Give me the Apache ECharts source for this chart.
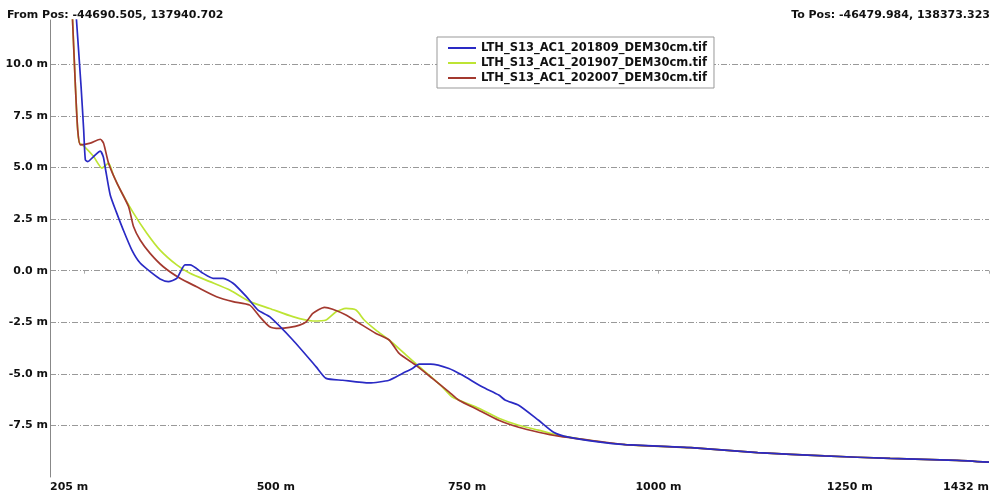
<!DOCTYPE html>
<html>
<head>
<meta charset="utf-8">
<script src="https://cdn.jsdelivr.net/npm/echarts@6/dist/echarts.min.js"></script>
<style>
  html, body { margin: 0; padding: 0; background: #fff; }
  #profile { width: 992px; height: 495px; }
</style>
</head>
<body>
<div id="profile"></div>
<script>
// 剖面名称
var seriesNames = [
  'LTH_S13_AC1_201809_DEM30cm.tif',
  'LTH_S13_AC1_201907_DEM30cm.tif',
  'LTH_S13_AC1_202007_DEM30cm.tif'
];

// 201809 距离 (m) / 高程 (m)
var dist2018 = [238, 245.6, 249, 251.2, 254.5, 261.6, 270.7, 274.6, 277.2, 283.7, 291.6, 300.7, 312, 322.8, 338, 348.8, 359.6, 370.6, 381.4, 387.9, 405.2, 418.2, 431.2, 444.2, 461.7, 476.8, 492, 522.3, 552.8, 565.8, 587.4, 622.2, 648.2, 665.5, 678.5, 687.2, 702.5, 726.3, 743.6, 769.6, 791.4, 800.1, 817.4, 843.4, 863, 882.5, 921.5];
var elev2018 = [13, 8.93, 6.83, 5.37, 5.29, 5.52, 5.79, 5.52, 4.99, 3.67, 2.85, 1.98, 1.0, 0.37, -0.11, -0.40, -0.53, -0.37, 0.28, 0.28, -0.13, -0.37, -0.37, -0.61, -1.26, -1.91, -2.23, -3.36, -4.66, -5.22, -5.31, -5.44, -5.31, -4.98, -4.74, -4.53, -4.53, -4.74, -5.06, -5.63, -6.03, -6.28, -6.52, -7.25, -7.83, -8.07, -8.30];

// 201907
var dist2019 = [233.5, 238.2, 241.2, 243.4, 249, 262, 272.9, 281.5, 287.6, 296.8, 314.1, 331.5, 348.8, 370.6, 387.9, 413.9, 439.9, 466, 492, 522.3, 548.4, 565.8, 578.8, 591.8, 604.9, 615.6, 630.9, 648.2, 670.4, 683, 700.3, 717.6, 730.6, 765.3, 791.4, 817.4, 843.4, 869.5, 921.5];
var elev2019 = [13, 8.93, 6.83, 6.2, 6.05, 5.53, 4.97, 5.21, 4.65, 3.92, 2.79, 1.82, 1.0, 0.28, -0.13, -0.53, -0.94, -1.50, -1.83, -2.23, -2.44, -2.39, -1.99, -1.83, -1.91, -2.39, -2.88, -3.36, -4.09, -4.50, -5.06, -5.63, -6.12, -6.67, -7.15, -7.49, -7.73, -7.98, -8.28];

// 202007
var dist2020 = [233.5, 238.2, 241.2, 244.7, 257.7, 270.7, 275, 281.5, 292.5, 307.6, 314.1, 322.8, 335.8, 353.1, 374.9, 396.6, 422.6, 444.2, 466, 479, 492, 505, 518, 531.1, 539.8, 548.4, 563.6, 574.4, 591.8, 609.2, 630.9, 648.2, 661.2, 682.9, 704.6, 726.3, 739.3, 765.3, 791.4, 817.4, 843.4, 869.5, 921.5];
var elev2020 = [13, 8.93, 6.83, 6.10, 6.18, 6.37, 6.18, 5.21, 4.24, 3.11, 2.14, 1.49, 0.84, 0.19, -0.37, -0.78, -1.26, -1.50, -1.67, -2.23, -2.72, -2.80, -2.75, -2.64, -2.48, -2.07, -1.78, -1.87, -2.15, -2.55, -3.04, -3.36, -4.01, -4.58, -5.22, -5.87, -6.28, -6.76, -7.25, -7.59, -7.83, -8.02, -8.27];

// 三条线尾部基本重合
var tailDist = [956.6, 1042.5, 1129.7, 1216.9, 1302.8, 1390, 1432];
var tailElev = [-8.43, -8.58, -8.82, -8.98, -9.10, -9.19, -9.28];

// 坐标轴刻度
var xTicks = [250, 500, 750, 1000, 1250, 1432];
var xLabels = [205, 500, 750, 1000, 1250, 1432];
var yLabels = [-7.5, -5, -2.5, 0, 2.5, 5, 7.5, 10];

var colors = ['#2a2ac4', '#bde434', '#a3392f'];

function pairs(d, e) {
  var out = [];
  for (var i = 0; i < d.length; i++) out.push([d[i], e[i]]);
  for (var j = 0; j < tailDist.length; j++) out.push([tailDist[j], tailElev[j]]);
  return out;
}

var lines = [pairs(dist2018, elev2018), pairs(dist2019, elev2019), pairs(dist2020, elev2020)];

var myChart = echarts.init(document.getElementById('profile'), null, { renderer: 'canvas' });

var font = 'DejaVu Sans';

option = {
  animation: false,
  backgroundColor: '#fff',
  title: [
    {
      text: 'From Pos: -44690.505, 137940.702',
      left: 7, top: 10, padding: 0,
      textStyle: { fontFamily: font, fontSize: 11, fontWeight: 'bold', color: '#111' }
    },
    {
      text: 'To Pos: -46479.984, 138373.323',
      right: 2, top: 10, padding: 0,
      textStyle: { fontFamily: font, fontSize: 11, fontWeight: 'bold', color: '#111' }
    }
  ],
  legend: {
    orient: 'vertical',
    left: 437, top: 37,
    padding: [5, 7, 4, 10],
    itemGap: 3,
    itemWidth: 28,
    itemHeight: 10,
    borderColor: '#999',
    borderWidth: 1,
    backgroundColor: '#fff',
    itemStyle: { opacity: 0 },
    textStyle: { fontFamily: font, fontSize: 11.5, fontWeight: 'bold', color: '#111' },
    data: seriesNames
  },
  grid: { left: 50, right: 2, top: 20, bottom: 18, containLabel: false },
  xAxis: {
    type: 'value',
    min: 205, max: 1432,
    axisLine: { show: false },
    axisTick: { show: true, customValues: xTicks, length: 3, lineStyle: { color: '#aaa' } },
    axisLabel: {
      customValues: xLabels,
      formatter: function (v) { return v + ' m'; },
      margin: 5,
      alignMinLabel: 'left',
      alignMaxLabel: 'right',
      fontFamily: font, fontSize: 11, fontWeight: 'bold', color: '#111'
    },
    splitLine: { show: false }
  },
  yAxis: {
    type: 'value',
    min: -10, max: 12.15,
    axisLine: { show: true, lineStyle: { color: '#888', width: 1 } },
    axisTick: { show: false, customValues: yLabels },
    axisLabel: {
      customValues: yLabels,
      formatter: function (v) { return v.toFixed(1) + ' m'; },
      margin: 2,
      fontFamily: font, fontSize: 11, fontWeight: 'bold', color: '#111'
    },
    splitLine: { show: true, lineStyle: { color: '#999', width: 1, type: [6, 2, 1, 2] } }
  },
  series: seriesNames.map(function (name, i) {
    return {
      name: name,
      type: 'line',
      data: lines[i],
      symbol: 'none',
      smooth: 0.2,
      color: colors[i],
      lineStyle: { color: colors[i], width: 1.7 },
      z: i === 0 ? 4 : (i === 1 ? 2 : 3)
    };
  })
};

myChart.setOption(option);
</script>
</body>
</html>
